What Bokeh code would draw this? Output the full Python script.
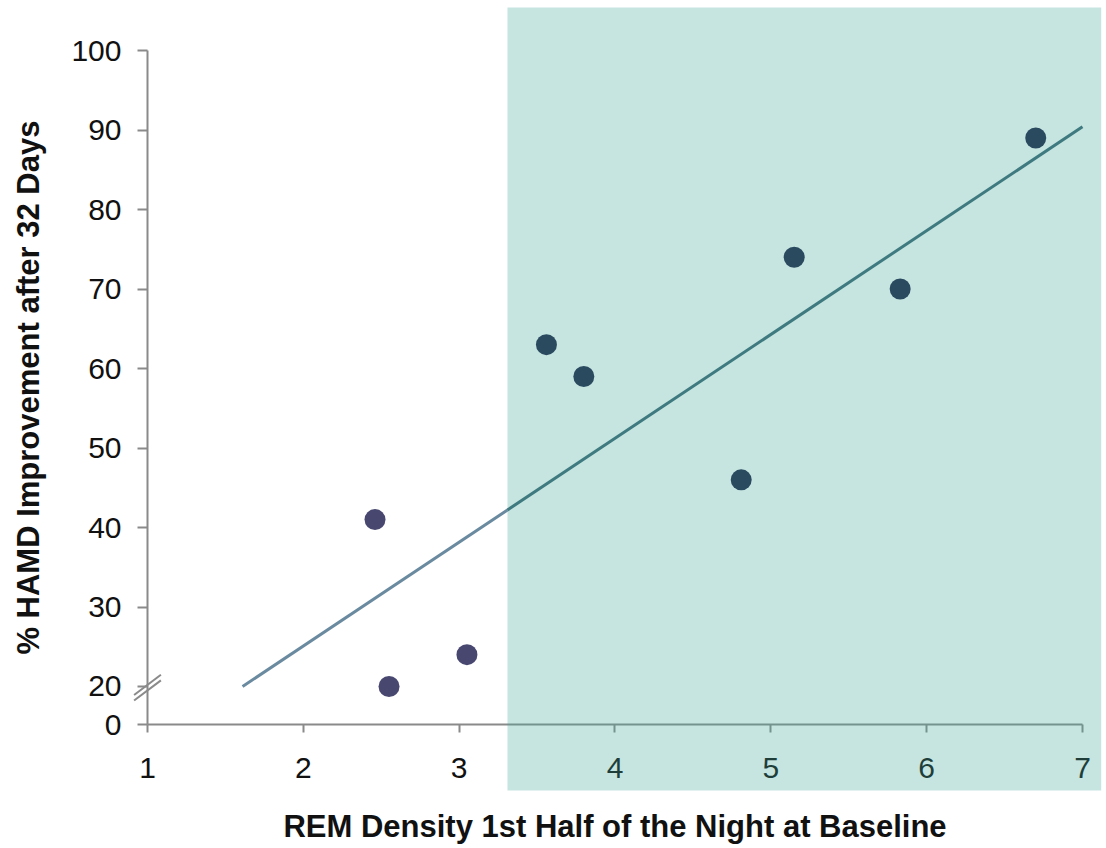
import math
from bokeh.plotting import figure
from bokeh.models import LinearAxis, FixedTicker, Range1d
from bokeh.core.properties import value
from bokeh.embed import file_html
from bokeh.resources import INLINE

# ---- data ----
rem_density = [2.46, 2.55, 3.05, 3.56, 3.80, 4.81, 5.15, 5.83, 6.70]
hamd_improvement = [41, 20, 24, 63, 59, 46, 74, 70, 89]
trend_x = [1.61, 7.0]
trend_y = [20.0, 90.4]
x_ticks = [1, 2, 3, 4, 5, 6, 7]
y_ticks = [20, 30, 40, 50, 60, 70, 80, 90, 100]
y_zero_pos = 15.2          # where the "0" label sits below the axis break
shade_x0 = 3.31            # left edge of the shaded band

x_title = "REM Density 1st Half of the Night at Baseline"
y_title = "% HAMD Improvement after 32 Days"

FONT = "Liberation Sans"
AXIS_COLOR = "#8a8a8a"

p = figure(width=1104, height=846,
           x_range=Range1d(0.0567, 7.1413), y_range=Range1d(-0.126, 106.29),
           output_backend="svg", toolbar_location=None,
           x_axis_location=None, y_axis_location=None,
           min_border_left=0, min_border_right=0,
           min_border_top=0, min_border_bottom=0)
p.outline_line_color = None
p.grid.visible = False
p.background_fill_color = "white"
p.border_fill_color = "white"

# trend line split at the shade edge
def interp(x):
    return trend_y[0] + (x - trend_x[0]) * (trend_y[1] - trend_y[0]) / (trend_x[1] - trend_x[0])

p.line([trend_x[0], shade_x0], [trend_y[0], interp(shade_x0)], line_color="#6a8aa0", line_width=3)
p.line([shade_x0, trend_x[1]], [interp(shade_x0), trend_y[1]], line_color="#3e6674", line_width=3)

colors = ["#202247" if x >= shade_x0 else "#474770" for x in rem_density]
p.scatter(rem_density, hamd_improvement, size=21, fill_color=colors, line_color=None)

# axis break marks on the y axis
bx, dx, dy = x_ticks[0], 0.086, 1.27
for yc in (20.2, 19.5):
    p.segment(x0=[bx - dx], y0=[yc - dy], x1=[bx + dx], y1=[yc + dy],
              line_color=AXIS_COLOR, line_width=2)

# axes drawn at fixed locations inside the frame
xaxis = LinearAxis(fixed_location=y_zero_pos, bounds=(x_ticks[0], x_ticks[-1]),
                   ticker=FixedTicker(ticks=x_ticks))
yaxis = LinearAxis(fixed_location=x_ticks[0], bounds=(y_zero_pos, y_ticks[-1]),
                   ticker=FixedTicker(ticks=[y_zero_pos] + y_ticks))
yaxis.major_label_overrides = {y_zero_pos: "0", str(y_zero_pos): "0"}

for ax in (xaxis, yaxis):
    ax.axis_line_color = AXIS_COLOR
    ax.axis_line_width = 2
    ax.major_tick_line_color = AXIS_COLOR
    ax.major_tick_line_width = 2
    ax.major_tick_in = 0
    ax.minor_tick_line_color = None
    ax.major_label_text_font = FONT
    ax.major_label_text_font_size = "30px"
    ax.major_label_text_color = "#111111"

xaxis.major_tick_out = 8
xaxis.major_label_standoff = 25
yaxis.major_tick_out = 10
yaxis.major_label_standoff = 16

p.add_layout(xaxis, "below")
p.add_layout(yaxis, "left")

# axis titles (centred on the axis bounds)
x_mid = (x_ticks[0] + x_ticks[-1]) / 2
y_mid = (y_zero_pos + y_ticks[-1]) / 2
p.text(x=[x_mid], y=[2.39], text=[x_title], text_align="center", text_baseline="middle",
       text_font=value(FONT), text_font_size="31px", text_font_style="bold", text_color="#111111")
p.text(x=[0.236], y=[y_mid], text=[y_title], angle=math.pi / 2, text_align="center",
       text_baseline="middle", text_font=value(FONT), text_font_size="31px",
       text_font_style="bold", text_color="#111111")

# translucent shaded band on top of everything
p.quad(left=[shade_x0], right=[7.12], bottom=[6.92], top=[105.4],
       fill_color="#41a89b", fill_alpha=0.3, line_color=None, level="overlay")

open("out.html", "w").write(file_html(p, INLINE))
